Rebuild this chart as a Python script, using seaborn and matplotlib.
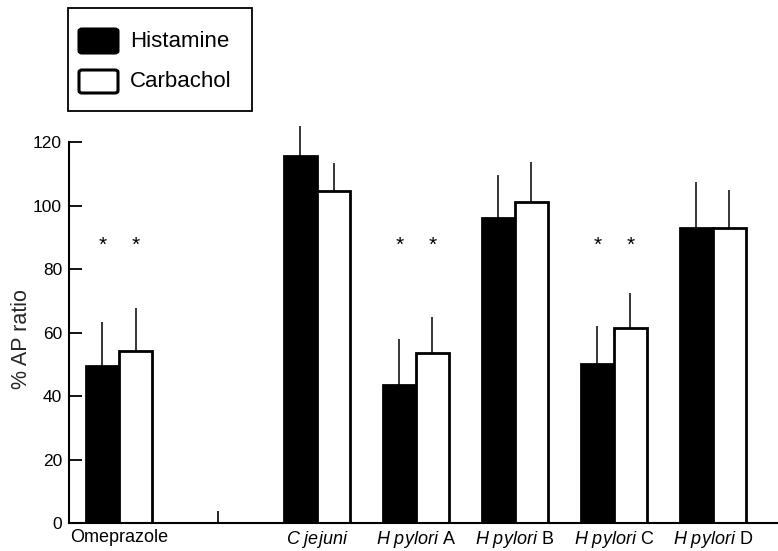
import matplotlib
matplotlib.use("Agg")
import matplotlib.pyplot as plt
from matplotlib.patches import Rectangle, FancyBboxPatch
import seaborn as sns
import pandas as pd

sns.set_style("white")
plt.rcParams["font.family"] = ["Liberation Sans", "DejaVu Sans"]
plt.rcParams["mathtext.fontset"] = "custom"
plt.rcParams["mathtext.it"] = "Liberation Sans:italic"
plt.rcParams["mathtext.rm"] = "Liberation Sans"

# Groups (the blank slot separates the omeprazole control from the strains)
groups = ["Omeprazole", "", "C jejuni", "H pylori A", "H pylori B", "H pylori C", "H pylori D"]
tick_labels = ["Omeprazole", "", r"$\mathit{C\ jejuni}$", r"$\mathit{H\ pylori}$ A",
               r"$\mathit{H\ pylori}$ B", r"$\mathit{H\ pylori}$ C", r"$\mathit{H\ pylori}$ D"]
measured = ["Omeprazole", "C jejuni", "H pylori A", "H pylori B", "H pylori C", "H pylori D"]
histamine = [49.4, 115.7, 43.5, 96.0, 50.1, 92.8]
histamine_sem = [13.8, 9.2, 14.5, 13.6, 11.9, 14.7]
carbachol = [54.3, 104.6, 53.4, 101.2, 61.5, 92.8]
carbachol_sem = [13.5, 8.7, 11.6, 12.6, 10.8, 12.1]
significant = ["Omeprazole", "H pylori A", "H pylori C"]
stimuli = ["Histamine", "Carbachol"]

df = pd.DataFrame({
    "group": measured * 2,
    "stimulus": [stimuli[0]] * len(measured) + [stimuli[1]] * len(measured),
    "ratio": histamine + carbachol,
})
sem = {(stimuli[0], g): e for g, e in zip(measured, histamine_sem)}
sem.update({(stimuli[1], g): e for g, e in zip(measured, carbachol_sem)})

W, H = 778, 551
fig = plt.figure(figsize=(W / 100, H / 100), dpi=100)
ax = fig.add_axes([69 / W, 28 / H, 1 - 69 / W, 400 / H])

sns.barplot(data=df, x="group", y="ratio", hue="stimulus", order=groups,
            hue_order=stimuli,
            palette={"Histamine": "black", "Carbachol": "white"},
            errorbar=None, width=0.67, edgecolor="black", linewidth=2,
            legend=False, ax=ax)

# One-sided SEM bars and significance marks above each bar
for container, stim in zip(ax.containers, stimuli):
    for bar in container:
        xc = bar.get_x() + bar.get_width() / 2
        g = groups[int(round(xc))]
        if g not in measured:
            continue
        h = bar.get_height()
        ax.errorbar([xc], [h], yerr=[[0], [sem[(stim, g)]]], fmt="none",
                    ecolor="black", elinewidth=1.1, capsize=0, zorder=1)
        if g in significant:
            ax.text(xc, 84.4, "*", ha="center", va="bottom", fontsize=15,
                    color="black")

ax.set_xlim(-0.506, 6.66)
ax.set_ylim(0, 126)
ax.set_yticks(range(0, 121, 20))
ax.spines["left"].set_bounds(0, 120)
for s in ["top", "right"]:
    ax.spines[s].set_visible(False)
for s in ["left", "bottom"]:
    ax.spines[s].set_linewidth(1.5)
    ax.spines[s].set_color("black")

ax.tick_params(axis="y", direction="in", length=9, width=1.3, pad=5,
               labelsize=12.5, left=True, colors="black")
ax.set_xticks(range(len(groups)))
ax.set_xticklabels(tick_labels, fontsize=13)
ax.tick_params(axis="x", direction="in", length=9, width=1.2, pad=4,
               bottom=True, colors="black")
for i, t in enumerate(ax.xaxis.get_major_ticks()):
    t.tick1line.set_visible(groups[i] == "")

ax.set_xlabel("")
ax.set_ylabel("% AP ratio", fontsize=15.5)
ax.yaxis.set_label_coords(-0.052, 0.459)


# Key box in the top-left corner (pixel positions measured from the top)
def fig_box(x0, y0, x1, y1):
    return x0 / W, 1 - y1 / H, (x1 - x0) / W, (y1 - y0) / H


bx, by, bw, bh = fig_box(68, 8, 252, 111)
fig.patches.append(Rectangle((bx, by), bw, bh, transform=fig.transFigure,
                             facecolor="white", edgecolor="black", linewidth=1.3))
for (y0, y1), face, label in zip([(29, 53), (70, 93)], ["black", "white"], stimuli):
    px, py, pw, ph = fig_box(79, y0, 118, y1)
    fig.patches.append(FancyBboxPatch((px, py), pw, ph, transform=fig.transFigure,
                                      boxstyle="round,pad=0,rounding_size=0.004",
                                      facecolor=face, edgecolor="black",
                                      linewidth=2.2))
    fig.text(130 / W, 1 - (y0 + y1) / 2 / H, label, fontsize=16,
             ha="left", va="center", color="black")

fig.savefig("out.png", dpi=100)
